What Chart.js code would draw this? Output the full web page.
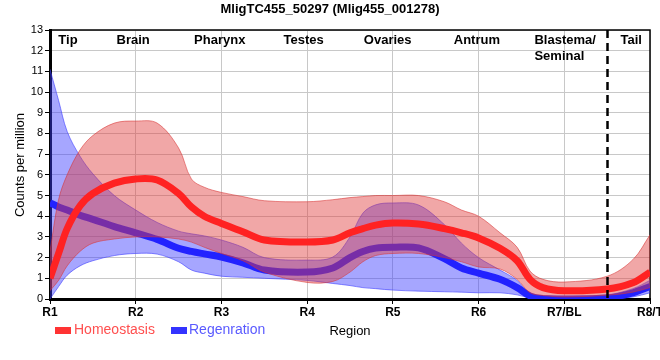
<!DOCTYPE html>
<html><head><meta charset="utf-8">
<script src="https://cdn.jsdelivr.net/npm/chart.js@4.4.1/dist/chart.umd.min.js"></script>
<style>html,body{margin:0;padding:0;background:#fff;}#wrap{width:660px;height:360px;}</style>
</head><body><div id="wrap"><canvas id="c" width="660" height="360"></canvas></div>
<script>
// ---- data ----
const chartTitle = 'MligTC455_50297 (Mlig455_001278)';
const regionTicks = ['R1','R2','R3','R4','R5','R6','R7/BL','R8/T'];
const regionNames = [['Tip'],['Brain'],['Pharynx'],['Testes'],['Ovaries'],['Antrum'],['Blastema/','Seminal'],['Tail']];
const regionNameAt = [0.21, 0.97, 1.98, 2.96, 3.94, 4.98, 6.01, 6.78];
const tailBoundary = 6.5;
const seriesNames = ['Homeostasis','Regenration'];
const xs = [0, 0.1, 0.2, 0.35, 0.5, 0.75, 1.0, 1.25, 1.5, 1.65, 1.8, 2.0, 2.25, 2.5, 3.0, 3.3, 3.5, 3.65, 3.8, 4.0, 4.3, 4.6, 4.8, 5.0, 5.25, 5.45, 5.6, 5.75, 6.0, 6.5, 6.8, 7.0];
const homeoMean  = [1.0, 2.2, 3.4, 4.5, 5.1, 5.6, 5.8, 5.75, 5.1, 4.45, 4.0, 3.65, 3.25, 2.85, 2.75, 2.85, 3.2, 3.4, 3.57, 3.67, 3.62, 3.4, 3.2, 2.95, 2.45, 1.85, 0.95, 0.55, 0.4, 0.48, 0.78, 1.3];
const homeoUpper = [2.3, 4.8, 6.0, 7.2, 7.9, 8.5, 8.6, 8.5, 7.3, 5.8, 5.4, 5.15, 4.95, 4.75, 4.7, 4.8, 4.9, 4.95, 5.0, 5.0, 5.0, 4.7, 4.3, 4.0, 3.2, 2.5, 1.35, 0.95, 0.82, 1.1, 1.9, 3.1];
const homeoLower = [0.4, 0.9, 1.6, 2.3, 2.7, 2.9, 3.0, 3.0, 2.9, 2.75, 2.5, 2.2, 1.85, 1.3, 0.8, 0.85, 1.3, 1.8, 2.1, 2.2, 2.2, 2.0, 1.8, 1.55, 1.45, 0.95, 0.3, 0.17, 0.1, 0.18, 0.33, 0.55];
const regenMean  = [4.65, 4.45, 4.3, 4.05, 3.85, 3.5, 3.2, 2.88, 2.45, 2.3, 2.18, 2.03, 1.75, 1.4, 1.3, 1.5, 2.0, 2.3, 2.46, 2.5, 2.47, 1.95, 1.5, 1.25, 0.95, 0.55, 0.15, 0.02, 0.0, 0.05, 0.3, 0.6];
const regenUpper = [11.1, 9.6, 8.1, 6.9, 6.05, 5.0, 4.3, 3.7, 3.28, 3.15, 3.05, 2.85, 2.5, 2.0, 1.88, 2.03, 3.0, 4.15, 4.55, 4.64, 4.54, 3.6, 2.7, 2.0, 1.4, 0.9, 0.25, 0.15, 0.12, 0.2, 0.5, 0.9];
const regenLower = [0.0, 0.6, 1.15, 1.6, 1.85, 2.1, 2.2, 2.17, 1.8, 1.4, 1.25, 1.1, 1.05, 1.0, 0.9, 0.75, 0.65, 0.55, 0.5, 0.43, 0.38, 0.35, 0.33, 0.3, 0.3, 0.2, 0.05, 0.0, 0.0, 0.0, 0.1, 0.3];

// ---- styles ----
const RED = '#ff2222', BLUE = '#2222ff';
const RED_FILL = 'rgba(225,60,60,0.45)', RED_EDGE = 'rgba(215,50,50,0.55)';
const BLUE_FILL = 'rgba(60,60,255,0.46)', BLUE_EDGE = 'rgba(60,60,255,0.6)';
const pts = arr => xs.map((x, i) => ({x: x, y: arr[i]}));
const base = {pointRadius: 0, pointHoverRadius: 0, tension: 0.35};

const deco = {
  id: 'deco',
  beforeDatasetsDraw(chart) {
    const {ctx, chartArea: a} = chart;
    ctx.save();
    ctx.strokeStyle = '#000'; ctx.lineWidth = 1.5;
    ctx.beginPath(); ctx.moveTo(a.left, a.top); ctx.lineTo(a.right, a.top); ctx.lineTo(a.right, a.bottom); ctx.stroke();
    ctx.restore();
  },
  afterDatasetsDraw(chart) {
    const {ctx, chartArea: a, scales: {x}} = chart;
    ctx.save();
    const dx = Math.round(x.getPixelForValue(tailBoundary)) + 0.5;
    ctx.strokeStyle = '#000'; ctx.lineWidth = 2.5; ctx.setLineDash([8, 5]);
    ctx.beginPath(); ctx.moveTo(dx, a.top); ctx.lineTo(dx, a.bottom); ctx.stroke();
    ctx.setLineDash([]);
    ctx.fillStyle = '#000'; ctx.font = "bold 13px 'Liberation Sans', Arial, sans-serif"; ctx.textBaseline = 'middle';
    regionNames.forEach((lines, i) => {
      const px = x.getPixelForValue(regionNameAt[i]);
      if (lines.length > 1) {
        ctx.textAlign = 'left';
        const w = ctx.measureText(lines[0]).width;
        lines.forEach((t, j) => ctx.fillText(t, px - w / 2, 40 + j * 16));
      } else {
        ctx.textAlign = 'center';
        ctx.fillText(lines[0], px, 40);
      }
    });
    ctx.restore();
  },
  afterDraw(chart) {
    const {ctx, chartArea: a, scales: {x}} = chart;
    ctx.save();
    ctx.fillStyle = '#000'; ctx.textBaseline = 'middle'; ctx.textAlign = 'center';
    ctx.font = "bold 13px 'Liberation Sans', Arial, sans-serif";
    ctx.fillText(chartTitle, 330, 9);
    ctx.font = "bold 12px 'Liberation Sans', Arial, sans-serif";
    regionTicks.forEach((t, i) => ctx.fillText(t, x.getPixelForValue(i), 313));
    ctx.font = "13px 'Liberation Sans', Arial, sans-serif";
    ctx.fillText('Region', (a.left + a.right) / 2, 331);
    ctx.save(); ctx.translate(20, 165); ctx.rotate(-Math.PI / 2); ctx.fillText('Counts per million', 0, 0); ctx.restore();
    // legend
    ctx.textAlign = 'left'; ctx.font = "14px 'Liberation Sans', Arial, sans-serif";
    ctx.fillStyle = '#ff3333'; ctx.fillRect(55, 327, 16, 7);
    ctx.fillStyle = '#ff4f4f'; ctx.fillText(seriesNames[0], 74, 330);
    ctx.fillStyle = '#3333ff'; ctx.fillRect(171, 327, 16, 7);
    ctx.fillStyle = '#5a5aff'; ctx.fillText(seriesNames[1], 189, 330);
    ctx.restore();
  }
};

new Chart(document.getElementById('c'), {
  type: 'line',
  data: {
    datasets: [
      Object.assign({label: seriesNames[0], data: pts(homeoMean), borderColor: RED, borderWidth: 7, fill: false}, base),
      Object.assign({label: 'h_up', data: pts(homeoUpper), borderColor: RED_EDGE, borderWidth: 1, backgroundColor: RED_FILL, fill: '+1'}, base),
      Object.assign({label: 'h_lo', data: pts(homeoLower), borderColor: RED_EDGE, borderWidth: 1, fill: false}, base),
      Object.assign({label: seriesNames[1], data: pts(regenMean), borderColor: BLUE, borderWidth: 7, fill: false}, base),
      Object.assign({label: 'r_up', data: pts(regenUpper), borderColor: BLUE_EDGE, borderWidth: 1, backgroundColor: BLUE_FILL, fill: '+1'}, base),
      Object.assign({label: 'r_lo', data: pts(regenLower), borderColor: BLUE_EDGE, borderWidth: 1, fill: false}, base)
    ]
  },
  options: {
    responsive: false, animation: false, devicePixelRatio: 1,
    layout: {padding: {top: 30, right: 10, left: 0, bottom: 0}},
    plugins: {legend: {display: false}, title: {display: false}, tooltip: {enabled: false}},
    scales: {
      x: {
        type: 'linear', min: 0, max: 7,
        ticks: {display: false, stepSize: 1},
        grid: {color: '#c8c8c8', lineWidth: 1, tickColor: '#000', tickLength: 5, drawTicks: true},
        border: {display: true, color: '#000', width: 3},
        afterFit(s) { s.height = 61; }
      },
      y: {
        min: 0, max: 13,
        ticks: {stepSize: 1, color: '#000', padding: 2, font: {size: 11, family: "'Liberation Sans', Arial, sans-serif"}},
        grid: {color: '#c8c8c8', lineWidth: 1, tickColor: '#000', tickLength: 5},
        border: {display: true, color: '#000', width: 3},
        afterFit(s) { s.width = 50; }
      }
    }
  },
  plugins: [deco]
});
</script></body></html>
